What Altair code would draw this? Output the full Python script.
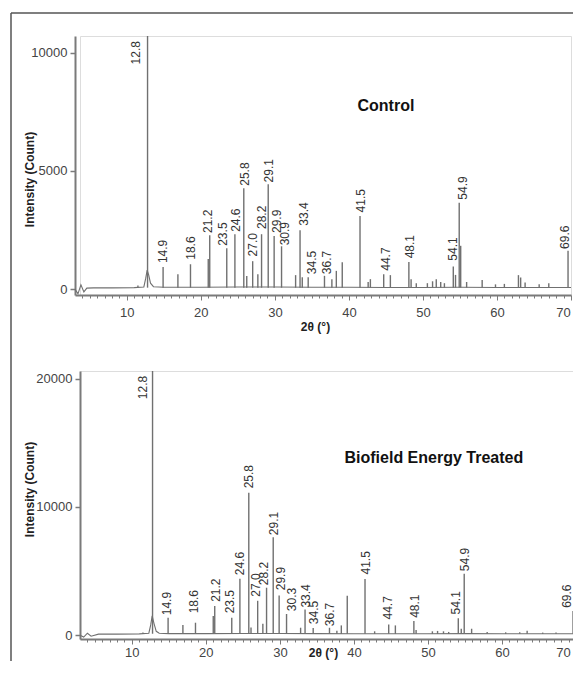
import altair as alt
import pandas as pd

# ---------------- data ----------------
# Control panel: peak positions (2theta) and peak tops (counts)
ctrl_peak_x = [11.5, 12.8, 14.9, 16.9, 18.6, 21.0, 21.2, 23.5, 24.6, 25.8, 26.2, 27.0, 27.7,
               28.2, 29.1, 29.9, 30.9, 32.8, 33.4, 33.7, 34.5, 36.7, 37.7, 38.3, 39.1, 41.5,
               42.6, 42.9, 44.7, 45.6, 48.1, 48.4, 49.1, 50.6, 51.3, 51.8, 52.4, 52.9, 54.1,
               54.4, 54.9, 55.1, 55.9, 58.0, 59.8, 61.0, 62.9, 63.2, 63.8, 65.7, 67.0, 69.6]
ctrl_peak_y = [150, 10700, 930, 630, 1050, 1270, 2280, 1730, 2320, 4260, 550, 1180, 630,
               2320, 4430, 2240, 1810, 590, 2490, 500, 500, 560, 420, 770, 1130, 3090,
               300, 420, 630, 590, 1150, 420, 250, 250, 330, 420, 300, 250, 960,
               600, 3650, 1830, 300, 380, 200, 220, 590, 490, 280, 200, 250, 1620]
ctrl_base_x = [3.0, 3.4, 3.8, 4.2, 4.6, 5.5, 8.0, 11.0, 12.3, 12.55, 12.75, 12.95, 13.2, 13.6,
               15, 20, 25, 30, 35, 40, 45, 50, 55, 60, 65, 70]
ctrl_base_y = [0, -200, 180, -120, 40, 50, 50, 60, 90, 450, 800, 600, 250, 100,
               80, 80, 90, 90, 80, 80, 70, 70, 80, 70, 70, 70]
ctrl_lbl = ["12.8", "14.9", "18.6", "21.2", "23.5", "24.6", "25.8", "27.0", "28.2", "29.1",
            "29.9", "30.9", "33.4", "34.5", "36.7", "41.5", "44.7", "48.1", "54.1", "54.9", "69.6"]
ctrl_lbl_x = [11.3, 14.9, 18.7, 21.0, 23.0, 24.8, 26.0, 27.1, 28.2, 29.25,
              30.3, 31.4, 33.9, 35.0, 37.1, 41.7, 45.0, 48.2, 54.0, 55.35, 69.2]
ctrl_lbl_y = [9500, 1100, 1240, 2370, 1830, 2420, 4370, 1380, 2540, 4510,
              2370, 1850, 2680, 630, 630, 3240, 775, 1300, 1200, 3780, 1700]

# Biofield Energy Treated panel
trt_peak_x = [11.5, 12.8, 14.9, 16.9, 18.6, 21.0, 21.2, 23.5, 24.6, 25.8, 26.1, 27.0, 27.7,
              28.2, 29.1, 29.9, 30.9, 32.8, 33.4, 34.5, 36.7, 37.7, 38.3, 39.1, 41.5, 42.8,
              44.7, 45.6, 48.1, 48.4, 50.6, 51.3, 52.1, 52.8, 54.1, 54.5, 54.9, 55.9, 58.0,
              60.5, 62.4, 63.4, 65.5, 67.3, 69.6]
trt_peak_y = [200, 20600, 1360, 790, 970, 1500, 2280, 1360, 4400, 11100, 600, 2680, 890,
              3700, 7630, 3100, 1650, 580, 2000, 550, 575, 350, 760, 3070, 4380, 300,
              840, 760, 1100, 400, 300, 330, 300, 250, 1310, 500, 4780, 500, 250,
              220, 230, 350, 200, 200, 1890]
trt_base_x = [3.0, 3.5, 4.0, 4.5, 5.5, 8.0, 11.0, 12.3, 12.55, 12.75, 13.0, 13.3, 13.7,
              15, 20, 25, 30, 35, 40, 45, 50, 55, 60, 65, 70]
trt_base_y = [0, -150, 150, -80, 80, 80, 100, 150, 800, 1500, 900, 300, 150,
              120, 120, 130, 130, 120, 110, 110, 110, 120, 110, 110, 110]
trt_lbl = ["12.8", "14.9", "18.6", "21.2", "23.5", "24.6", "25.8", "27.0", "28.2", "29.1",
           "29.9", "30.3", "33.4", "34.5", "36.7", "41.5", "44.7", "48.1", "54.1", "54.9", "69.6"]
trt_lbl_x = [11.5, 14.7, 18.45, 21.4, 23.3, 24.65, 25.85, 26.8, 27.9, 29.15,
             30.15, 31.65, 33.5, 34.6, 36.8, 41.65, 44.65, 48.2, 53.8, 54.95, 68.8]
trt_lbl_y = [18400, 1550, 1700, 2600, 1700, 4680, 11450, 3000, 3900, 7800,
             3500, 1870, 2150, 860, 700, 4730, 1220, 1350, 1610, 4990, 2130]

X_DOMAIN = [3, 70]
FONT = "Liberation Sans"
LINE = "#707070"
AXIS = "#7a7a7a"


def panel(peak_x, peak_y, base_x, base_y, base_level, lbl, lbl_x, lbl_y,
          title, title_x, title_y, y_domain, y_ticks, width, height, x_range,
          y_offset, ytitle_x, ytitle_y, xtitle_x, xtitle_y, xlabel_pad, last_shift,
          frame=False):
    xscale = alt.Scale(domain=X_DOMAIN, range=x_range, nice=False, zero=False)
    yscale = alt.Scale(domain=y_domain, nice=False, zero=False)
    xaxis = alt.Axis(
        values=list(range(4, 71)), grid=False, title="2θ (°)",
        labelExpr="datum.value % 10 === 0 ? datum.label : ''",
        labelOverlap=False, labelFlush=False,
        labelOffset={"condition": {"test": "datum.value === 70", "value": last_shift},
                     "value": 0},
        labelFontSize=13, labelColor="#444",
        labelPadding=xlabel_pad,
        tickSize={"condition": {"test": "datum.value % 10 === 0", "value": 5}, "value": 3},
        tickColor=AXIS, tickWidth=1, domainColor=AXIS, domainWidth=2,
        titleFontSize=12, titleFontWeight="bold", titleColor="#222",
        titleX=xtitle_x, titleY=xtitle_y, titleBaseline="middle", titleAlign="center",
    )
    yaxis = alt.Axis(
        values=y_ticks, grid=False, title="Intensity (Count)", format="d",
        labelFontSize=13, labelColor="#444", labelPadding=3,
        tickSize=5, tickColor=AXIS, tickWidth=1.5, domainColor=AXIS, domainWidth=2,
        offset=y_offset,
        titleFontSize=12, titleFontWeight="bold", titleColor="#222",
        titleX=ytitle_x, titleY=ytitle_y, titleAngle=270,
        titleBaseline="middle", titleAlign="center",
    )
    X = alt.X("x:Q", scale=xscale, axis=xaxis)
    Y = alt.Y("y:Q", scale=yscale, axis=yaxis)

    base_df = pd.DataFrame({"x": base_x, "y": base_y})
    peak_df = pd.DataFrame({"x": peak_x, "y": peak_y, "y0": [base_level] * len(peak_x)})
    lbl_df = pd.DataFrame({"x": lbl_x, "y": lbl_y, "t": lbl})
    ttl_df = pd.DataFrame({"x": [title_x], "y": [title_y], "t": [title]})

    base = alt.Chart(base_df).mark_line(color=LINE, strokeWidth=1.1).encode(x=X, y=Y)
    peaks = alt.Chart(peak_df).mark_rule(color=LINE, strokeWidth=1.4).encode(
        x=X, y=Y, y2="y0:Q")
    labels = alt.Chart(lbl_df).mark_text(
        angle=270, align="left", baseline="middle", fontSize=12, color="#333", font=FONT
    ).encode(x=X, y=Y, text="t:N")
    ttl = alt.Chart(ttl_df).mark_text(
        fontSize=16, fontWeight="bold", color="#111", font=FONT,
        align="center", baseline="middle"
    ).encode(x=X, y=Y, text="t:N")
    layers = [base, peaks, labels, ttl]
    if frame:
        fdf = pd.DataFrame({"a": [0]})
        ftop = alt.Chart(fdf).mark_rule(color="#555", strokeWidth=1.5).encode(
            x=alt.value(-69), x2=alt.value(499), y=alt.value(-23))
        fleft = alt.Chart(fdf).mark_rule(color="#555", strokeWidth=1.5).encode(
            x=alt.value(-69), y=alt.value(-23), y2=alt.value(630))
        layers += [ftop, fleft]
    return alt.layer(*layers).properties(width=width, height=height)


top = panel(ctrl_peak_x, ctrl_peak_y, ctrl_base_x, ctrl_base_y, 60,
            ctrl_lbl, ctrl_lbl_x, ctrl_lbl_y, "Control", 45.0, 7750,
            [-250, 10700], [0, 5000, 10000], 491, 259, [-5, 491],
            5, -46, 143, 235, 31, 6, -8, frame=True)
bottom = panel(trt_peak_x, trt_peak_y, trt_base_x, trt_base_y, 100,
               trt_lbl, trt_lbl_x, trt_lbl_y, "Biofield Energy Treated", 50.8, 13800,
               [-300, 20600], [0, 10000, 20000], 496, 268, [0, 496],
               0, -51, 118, 243, 13, 2, -13)

chart = alt.vconcat(top, bottom, spacing=76, bounds="flush").properties(
    padding={"left": 1, "top": 3, "right": -8, "bottom": -7},
    background="white",
).configure_view(stroke=None).configure(font=FONT)

chart.save("out.html", embed_options={"renderer": "svg", "actions": False})
